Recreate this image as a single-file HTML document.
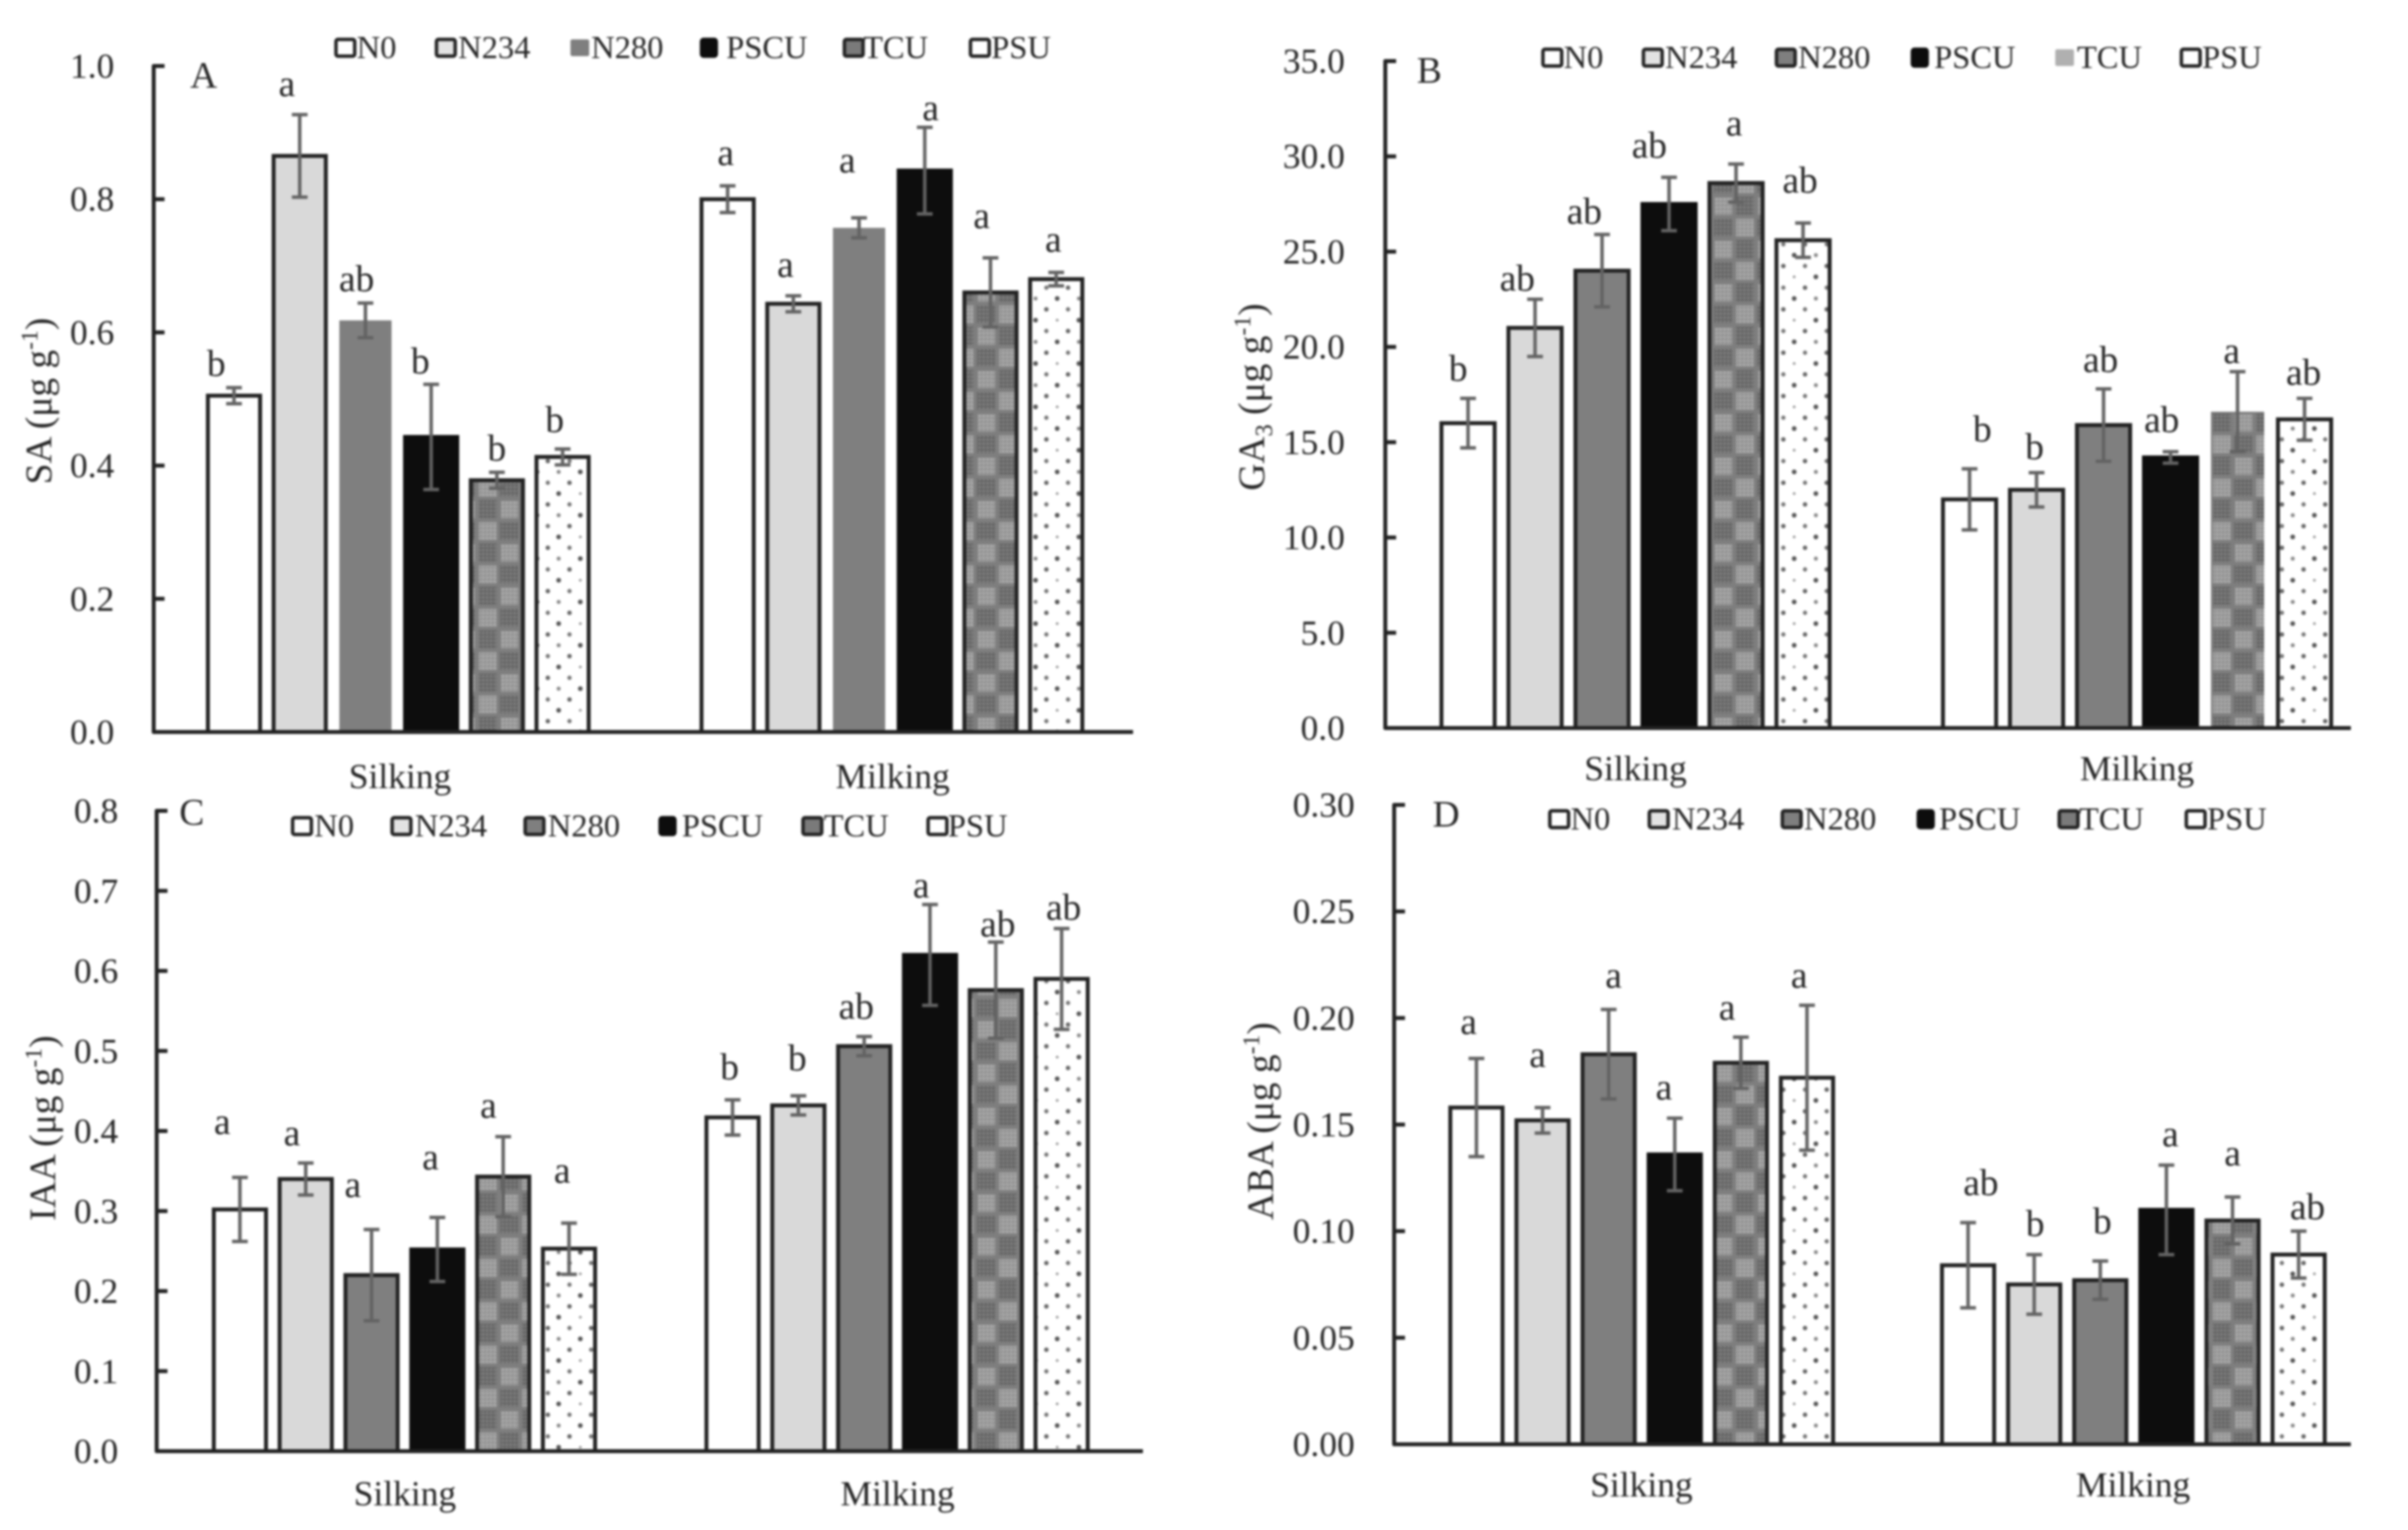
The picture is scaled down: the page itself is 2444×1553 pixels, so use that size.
<!DOCTYPE html>
<html lang="en">
<head>
<meta charset="utf-8">
<title>Plant hormone content at silking and milking</title>
<style>
  html, body { margin: 0; padding: 0; background: #fff; }
  body { width: 2444px; height: 1553px; overflow: hidden; }
  svg { display: block; filter: blur(1px); }
  text { font-family: "Liberation Serif", serif; fill: #262626; }
</style>
</head>
<body>
<svg id="figure" xmlns="http://www.w3.org/2000/svg" width="2444" height="1553" viewBox="0 0 2444 1553">
  <defs>
    <pattern id="fine-light" width="4" height="4" patternUnits="userSpaceOnUse">
      <rect width="4" height="4" fill="#a8a8a8"/>
      <path d="M0 0H4M0 0V4" stroke="#808080" stroke-width="1.2"/>
    </pattern>
    <pattern id="fine-dark" width="4" height="4" patternUnits="userSpaceOnUse">
      <rect width="4" height="4" fill="#7c7c7c"/>
      <path d="M0 0H4M0 0V4" stroke="#565656" stroke-width="1.4"/>
    </pattern>
    <pattern id="tcu-fill" width="44" height="44" patternUnits="userSpaceOnUse">
      <rect width="44" height="44" fill="#7e7e7e"/>
      <rect x="2" y="2" width="18" height="18" fill="url(#fine-light)"/>
      <rect x="24" y="2" width="18" height="18" fill="url(#fine-dark)"/>
      <rect x="2" y="24" width="18" height="18" fill="url(#fine-dark)"/>
      <rect x="24" y="24" width="18" height="18" fill="url(#fine-light)"/>
    </pattern>
    <pattern id="psu-fill" width="44" height="44" patternUnits="userSpaceOnUse">
      <rect width="44" height="44" fill="#fff"/>
      <circle cx="6" cy="6" r="2.3" fill="#666"/>
      <circle cx="28" cy="6" r="2.2" fill="#777"/>
      <circle cx="17" cy="17" r="1.4" fill="#999"/>
      <circle cx="39" cy="17" r="2.4" fill="#555"/>
      <circle cx="6" cy="28" r="2.2" fill="#777"/>
      <circle cx="28" cy="28" r="2.3" fill="#666"/>
      <circle cx="17" cy="39" r="2.4" fill="#555"/>
      <circle cx="39" cy="39" r="2" fill="#888"/>
    </pattern>
  </defs>
</svg>
<script>
// ---------- Shared categories ----------
const stages = ['Silking', 'Milking'];
const treatments = ['N0', 'N234', 'N280', 'PSCU', 'TCU', 'PSU'];

// ---------- Panel A: SA ----------
const saTicks = ['0.0', '0.2', '0.4', '0.6', '0.8', '1.0'];
const saSilkingValues = [0.505, 0.865, 0.618, 0.443, 0.378, 0.413];
const saSilkingErrors = [0.012, 0.062, 0.026, 0.079, 0.012, 0.012];
const saMilkingValues = [0.800, 0.643, 0.757, 0.843, 0.660, 0.680];
const saMilkingErrors = [0.020, 0.012, 0.015, 0.065, 0.052, 0.010];
const saSilkingLetters = ['b', 'a', 'ab', 'b', 'b', 'b'];
const saMilkingLetters = ['a', 'a', 'a', 'a', 'a', 'a'];

// ---------- Panel B: GA3 ----------
const gaTicks = ['0.0', '5.0', '10.0', '15.0', '20.0', '25.0', '30.0', '35.0'];
const gaSilkingValues = [16.0, 21.0, 24.0, 27.5, 28.6, 25.6];
const gaSilkingErrors = [1.3, 1.5, 1.9, 1.4, 1.0, 0.9];
const gaMilkingValues = [12.0, 12.5, 15.9, 14.2, 16.6, 16.2];
const gaMilkingErrors = [1.6, 0.9, 1.9, 0.3, 2.1, 1.1];
const gaSilkingLetters = ['b', 'ab', 'ab', 'ab', 'a', 'ab'];
const gaMilkingLetters = ['b', 'b', 'ab', 'ab', 'a', 'ab'];

// ---------- Panel C: IAA ----------
const iaaTicks = ['0.0', '0.1', '0.2', '0.3', '0.4', '0.5', '0.6', '0.7', '0.8'];
const iaaSilkingValues = [0.302, 0.340, 0.220, 0.252, 0.343, 0.253];
const iaaSilkingErrors = [0.040, 0.020, 0.057, 0.040, 0.050, 0.032];
const iaaMilkingValues = [0.417, 0.432, 0.506, 0.620, 0.576, 0.590];
const iaaMilkingErrors = [0.022, 0.012, 0.012, 0.063, 0.060, 0.063];
const iaaSilkingLetters = ['a', 'a', 'a', 'a', 'a', 'a'];
const iaaMilkingLetters = ['b', 'b', 'ab', 'a', 'ab', 'ab'];

// ---------- Panel D: ABA ----------
const abaTicks = ['0.00', '0.05', '0.10', '0.15', '0.20', '0.25', '0.30'];
const abaSilkingValues = [0.158, 0.152, 0.183, 0.136, 0.179, 0.172];
const abaSilkingErrors = [0.023, 0.006, 0.021, 0.017, 0.012, 0.034];
const abaMilkingValues = [0.084, 0.075, 0.077, 0.110, 0.105, 0.089];
const abaMilkingErrors = [0.020, 0.014, 0.009, 0.021, 0.011, 0.011];
const abaSilkingLetters = ['a', 'a', 'a', 'a', 'a', 'a'];
const abaMilkingLetters = ['ab', 'b', 'b', 'a', 'a', 'ab'];

// ---------- Layout (pixels only, no data) ----------
const panels = [
  { key: 'sa', letter: 'A', letterX: 193, letterY: 89,
    ticks: saTicks, values: [saSilkingValues, saMilkingValues], errors: [saSilkingErrors, saMilkingErrors],
    letters: [saSilkingLetters, saMilkingLetters],
    lifts: [[12, 19, 12, 11, 12, 17], [21, 19, 46, 7, 30, 21]],
    shifts: [[-18, -13, -9, -11, 0, -8], [-2, -8, -12, 6, -9, -3]],
    axisX: 156, top: 67, base: 743, xEnd: 1150, tickRight: 116,
    starts: [211, 712], step: 66.7, barW: 53, n280Border: false, plainTcuMilking: false,
    stageY: 800, stageX: [406, 906],
    legendY: 48, legendBox: [341, 443, 579, 712, 857, 985], legendText: [362, 465, 600, 737, 876, 1006],
    titleX: 52, titleY: 407, titleParts: ['SA ', ''] },
  { key: 'ga', letter: 'B', letterX: 1438, letterY: 84,
    ticks: gaTicks, values: [gaSilkingValues, gaMilkingValues], errors: [gaSilkingErrors, gaMilkingErrors],
    letters: [gaSilkingLetters, gaMilkingLetters],
    lifts: [[18, 9, 11, 20, 29, 31], [28, 14, 17, 20, 9, 14]],
    shifts: [[-10, -18, -18, -20, -2, -3], [13, -2, -3, -9, -6, -1]],
    axisX: 1406, top: 62, base: 739, xEnd: 2386, tickRight: 1365,
    starts: [1463, 1972], step: 68, barW: 54, n280Border: true, plainTcuMilking: true,
    stageY: 792, stageX: [1660, 2169],
    legendY: 58, legendBox: [1566, 1668, 1803, 1941, 2086, 2214], legendText: [1587, 1690, 1825, 1963, 2108, 2235],
    titleX: 1283, titleY: 403, titleParts: ['GA', '3'] },
  { key: 'iaa', letter: 'C', letterX: 182, letterY: 837,
    ticks: iaaTicks, values: [iaaSilkingValues, iaaMilkingValues], errors: [iaaSilkingErrors, iaaMilkingErrors],
    letters: [iaaSilkingLetters, iaaMilkingLetters],
    lifts: [[44, 18, 33, 49, 19, 41], [21, 26, 18, 7, 6, 9]],
    shifts: [[-18, -14, -19, -7, -15, -7], [-3, -1, -8, -9, 2, 2]],
    axisX: 159, top: 823, base: 1473, xEnd: 1160, tickRight: 120,
    starts: [217, 717], step: 66.8, barW: 53, n280Border: true, plainTcuMilking: false,
    stageY: 1528, stageX: [411, 911],
    legendY: 838, legendBox: [297, 398, 533, 670, 815, 942], legendText: [319, 421, 556, 692, 836, 962],
    titleX: 56, titleY: 1145, titleParts: ['IAA ', ''] },
  { key: 'aba', letter: 'D', letterX: 1454, letterY: 839,
    ticks: abaTicks, values: [abaSilkingValues, abaMilkingValues], errors: [abaSilkingErrors, abaMilkingErrors],
    letters: [abaSilkingLetters, abaMilkingLetters],
    lifts: [[25, 41, 22, 19, 18, 18], [28, 19, 28, 19, 32, 12]],
    shifts: [[-8, -5, 5, -11, -14, -8], [13, 1, 2, 4, 0, 9]],
    axisX: 1415, top: 817, base: 1466, xEnd: 2386, tickRight: 1375,
    starts: [1472, 1971], step: 67.1, barW: 53, n280Border: true, plainTcuMilking: false,
    stageY: 1519, stageX: [1666, 2165],
    legendY: 831, legendBox: [1573, 1674, 1809, 1947, 2090, 2219], legendText: [1594, 1697, 1831, 1968, 2110, 2240],
    titleX: 1292, titleY: 1138, titleParts: ['ABA ', ''] }
];

const barFills = ['#ffffff', '#d9d9d9', '#7f7f7f', '#0d0d0d', 'url(#tcu-fill)', 'url(#psu-fill)'];
const legendFills = ['#ffffff', '#e2e2e2', '#7f7f7f', '#0d0d0d', '#7a7a7a', '#ffffff'];
const INK = '#222222';
const NS = 'http://www.w3.org/2000/svg';
const root = document.getElementById('figure');

function make(tag, parent, attrs, content) {
  const node = document.createElementNS(NS, tag);
  for (const k in attrs) node.setAttribute(k, attrs[k]);
  if (content !== undefined) node.textContent = content;
  parent.appendChild(node);
  return node;
}

function drawPanel(p) {
  const g = make('g', root, {});
  
  

  const yMax = parseFloat(p.ticks[p.ticks.length - 1]);
  const yScale = function (v) { return p.base - (v / yMax) * (p.base - p.top); };
  const xScale = function (stageIdx, treatIdx) { return p.starts[stageIdx] + treatIdx * p.step; };

  // Bars, error bars and significance letters
  stages.forEach(function (stage, s) {
    treatments.forEach(function (name, i) {
      const v = p.values[s][i];
      const e = p.errors[s][i];
      const left = xScale(s, i);
      const mid = left + p.barW / 2;
      const noBorder = (i === 2 && !p.n280Border) || (i === 4 && s === 1 && p.plainTcuMilking);

      const bar = make('rect', g, {
        x: left, y: yScale(v), width: p.barW, height: p.base - yScale(v),
        fill: barFills[i],
        stroke: noBorder ? 'none' : (i === 3 ? '#0d0d0d' : INK),
        'stroke-width': 4
      });
      
      

      const yHi = yScale(v + e);
      const yLo = yScale(v - e);
      const err = make('path', g, {
        d: 'M' + mid + ' ' + yHi + 'V' + yLo + 'M' + (mid - 8) + ' ' + yHi + 'H' + (mid + 8) + 'M' + (mid - 8) + ' ' + yLo + 'H' + (mid + 8),
        fill: 'none', stroke: '#636363', 'stroke-width': 3.5
      });
      
      

      const sig = make('text', g, {
        x: mid + p.shifts[s][i], y: yHi - p.lifts[s][i],
        'font-size': 38, 'text-anchor': 'middle'
      }, p.letters[s][i]);
      
      
    });

    const stageLabel = make('text', g, {
      x: p.stageX[s], y: p.stageY, 'font-size': 36, 'text-anchor': 'middle'
    }, stage);
    
    
  });

  // Axes
  const axis = make('path', g, {
    d: 'M' + (p.axisX + 11) + ' ' + p.top + 'H' + p.axisX + 'V' + p.base + 'H' + p.xEnd,
    fill: 'none', stroke: INK, 'stroke-width': 4, 'stroke-linejoin': 'round'
  });
  
  

  p.ticks.forEach(function (label) {
    const val = parseFloat(label);
    const ty = yScale(val);
    if (val > 0 && val < yMax) {
      const tick = make('path', g, {
        d: 'M' + p.axisX + ' ' + ty + 'H' + (p.axisX + 11),
        stroke: INK, 'stroke-width': 4
      });
      
      
    }
    const tl = make('text', g, {
      x: p.tickRight, y: ty + 12, 'font-size': 36, 'text-anchor': 'end'
    }, label);
    
    
  });

  // Panel letter
  const tag = make('text', g, { x: p.letterX, y: p.letterY, 'font-size': 38 }, p.letter);
  
  

  // Y axis title
  const title = make('text', g, {
    transform: 'translate(' + p.titleX + ' ' + p.titleY + ') rotate(-90)',
    'font-size': 38, 'text-anchor': 'middle'
  });
  
  
  make('tspan', title, {}, p.titleParts[0]);
  if (p.titleParts[1]) {
    make('tspan', title, { dy: 8, 'font-size': 25 }, p.titleParts[1]);
    make('tspan', title, { dy: -8 }, ' (\u03BCg g');
  } else {
    make('tspan', title, {}, '(\u03BCg g');
  }
  make('tspan', title, { dy: -14, 'font-size': 24 }, '-1');
  make('tspan', title, { dy: 14 }, ')');

  // Legend
  treatments.forEach(function (name, i) {
    const entry = make('g', g, {});
    
    
    const plain = (i === 2 && !p.n280Border) || (i === 4 && p.plainTcuMilking);
    make('rect', entry, {
      x: p.legendBox[i], y: p.legendY - 8, width: i === 3 ? 15 : 19, height: 17, rx: 2,
      fill: (i === 4 && p.plainTcuMilking) ? '#b0b0b0' : legendFills[i],
      stroke: plain ? 'none' : (i === 3 ? '#0d0d0d' : INK),
      'stroke-width': 3.5
    });
    make('text', entry, {
      x: p.legendText[i], y: p.legendY + 11, 'font-size': 33
    }, name);
  });
}

panels.forEach(drawPanel);
</script>
</body>
</html>
